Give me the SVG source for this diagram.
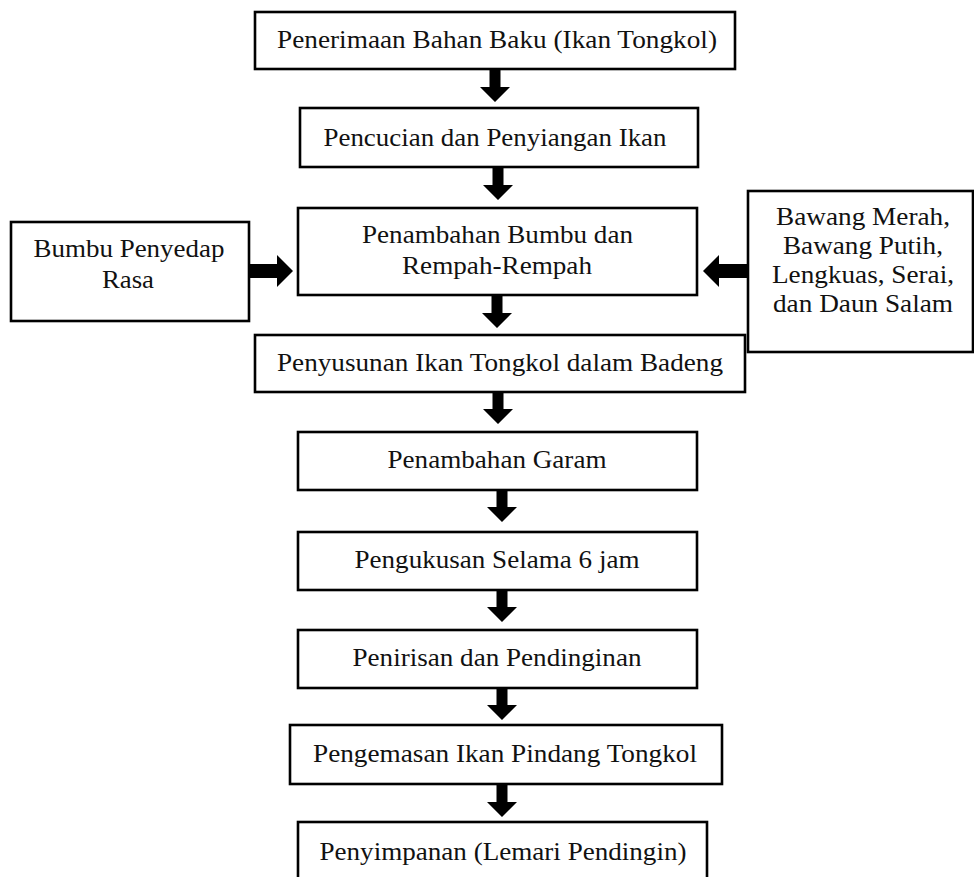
<svg xmlns="http://www.w3.org/2000/svg" width="974" height="877" viewBox="0 0 974 877">
<style>
.box{fill:#fff;stroke:#000;stroke-width:2.6}
.t{font-family:"Liberation Serif","Times New Roman",Times,serif;font-size:25.5px;fill:#111;text-anchor:middle}
.arr{fill:#000}
</style>
<rect width="974" height="877" fill="#fff"/>
<g id="connectors">
<polygon class="arr" points="489.5,69 500.5,69 500.5,87 510,87 495,102 480,87 489.5,87"/>
<polygon class="arr" points="492.5,167 503.5,167 503.5,185 513,185 498,200 483,185 492.5,185"/>
<polygon class="arr" points="491.5,295 502.5,295 502.5,313 512,313 497,328 482,313 491.5,313"/>
<polygon class="arr" points="492.5,392 503.5,392 503.5,409 513,409 498,424 483,409 492.5,409"/>
<polygon class="arr" points="496.5,490 507.5,490 507.5,507 517,507 502,522 487,507 496.5,507"/>
<polygon class="arr" points="496.5,590 507.5,590 507.5,607 517,607 502,622 487,607 496.5,607"/>
<polygon class="arr" points="496.5,688 507.5,688 507.5,705 517,705 502,720 487,705 496.5,705"/>
<polygon class="arr" points="496.5,784 507.5,784 507.5,802 517,802 502,817 487,802 496.5,802"/>
<polygon class="arr" points="249,264 277,264 277,255 293,271 277,287 277,278 249,278"/>
<polygon class="arr" points="748,264 719,264 719,255 703,271 719,287 719,278 748,278"/>
</g>
<g id="n1"><rect class="box" x="255" y="12" width="480" height="57"/><text class="t" x="497" y="48" textLength="440" lengthAdjust="spacingAndGlyphs">Penerimaan Bahan Baku (Ikan Tongkol)</text></g>
<g id="n2"><rect class="box" x="300" y="108" width="398" height="59"/><text class="t" x="495" y="146" textLength="343" lengthAdjust="spacingAndGlyphs">Pencucian dan Penyiangan Ikan</text></g>
<g id="n3"><rect class="box" x="298" y="208" width="399" height="87"/><text class="t" x="497.5" y="243" textLength="271" lengthAdjust="spacingAndGlyphs">Penambahan Bumbu dan</text><text class="t" x="497" y="274" textLength="190" lengthAdjust="spacingAndGlyphs">Rempah-Rempah</text></g>
<g id="n_left"><rect class="box" x="11" y="222" width="238" height="99"/><text class="t" x="129" y="257" textLength="191" lengthAdjust="spacingAndGlyphs">Bumbu Penyedap</text><text class="t" x="128" y="288" textLength="52" lengthAdjust="spacingAndGlyphs">Rasa</text></g>
<g id="n_right"><rect class="box" x="748" y="191" width="225" height="161"/><text class="t" x="863" y="225" textLength="174" lengthAdjust="spacingAndGlyphs">Bawang Merah,</text><text class="t" x="863" y="254" textLength="160" lengthAdjust="spacingAndGlyphs">Bawang Putih,</text><text class="t" x="863" y="283" textLength="182" lengthAdjust="spacingAndGlyphs">Lengkuas, Serai,</text><text class="t" x="863" y="312" textLength="180" lengthAdjust="spacingAndGlyphs">dan Daun Salam</text></g>
<g id="n4"><rect class="box" x="255" y="335" width="490" height="57"/><text class="t" x="500" y="371" textLength="446" lengthAdjust="spacingAndGlyphs">Penyusunan Ikan Tongkol dalam Badeng</text></g>
<g id="n5"><rect class="box" x="298" y="432" width="399" height="58"/><text class="t" x="497" y="468" textLength="219" lengthAdjust="spacingAndGlyphs">Penambahan Garam</text></g>
<g id="n6"><rect class="box" x="298" y="532" width="399" height="58"/><text class="t" x="497" y="568" textLength="285" lengthAdjust="spacingAndGlyphs">Pengukusan Selama 6 jam</text></g>
<g id="n7"><rect class="box" x="298" y="630" width="399" height="58"/><text class="t" x="497" y="666" textLength="289" lengthAdjust="spacingAndGlyphs">Penirisan dan Pendinginan</text></g>
<g id="n8"><rect class="box" x="290" y="725" width="432" height="59"/><text class="t" x="505" y="762" textLength="384" lengthAdjust="spacingAndGlyphs">Pengemasan Ikan Pindang Tongkol</text></g>
<g id="n9"><rect class="box" x="298" y="822" width="409" height="60"/><text class="t" x="503" y="860" textLength="367" lengthAdjust="spacingAndGlyphs">Penyimpanan (Lemari Pendingin)</text></g>
</svg>
